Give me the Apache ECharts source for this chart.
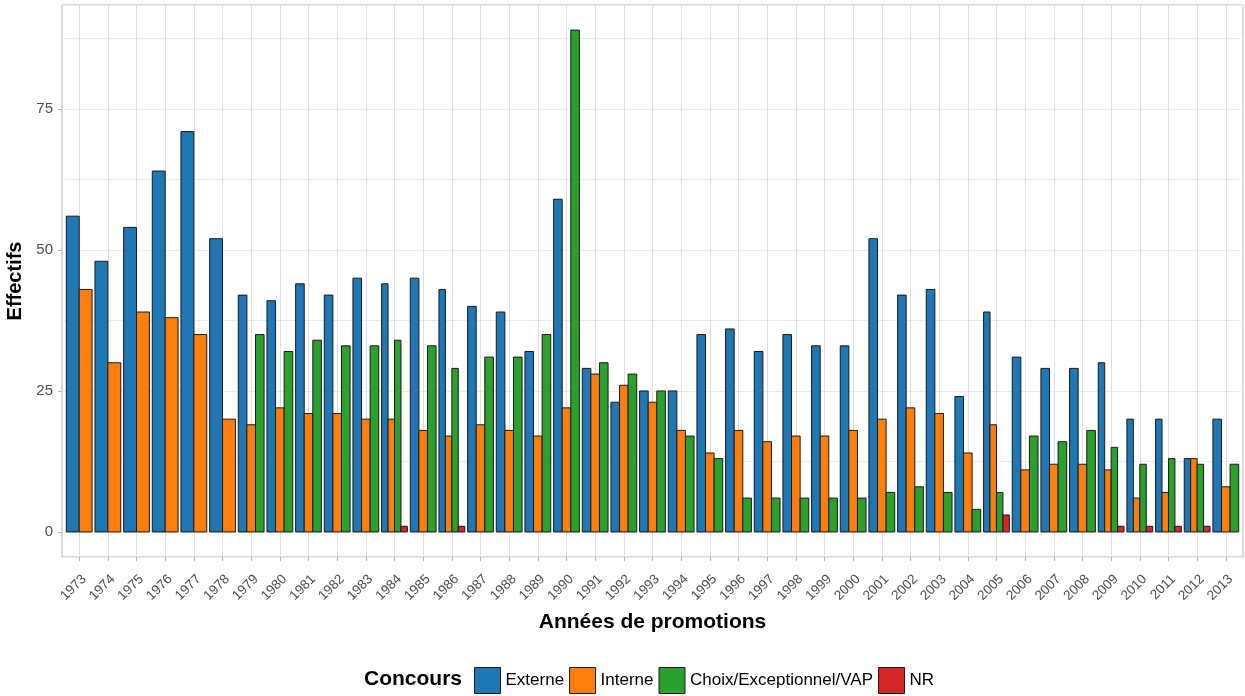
<!DOCTYPE html>
<html>
<head>
<meta charset="utf-8">
<script src="https://cdn.jsdelivr.net/npm/echarts@6/dist/echarts.min.js"></script>
<style>
html, body { margin: 0; background: #fff; }
#chart { width: 1245px; height: 696px; }
</style>
</head>
<body>
<div id="chart"></div>
<script>
// effectifs par année de promotion et par concours
var years = ['1973', '1974', '1975', '1976', '1977', '1978', '1979', '1980', '1981', '1982',
    '1983', '1984', '1985', '1986', '1987', '1988', '1989', '1990', '1991', '1992',
    '1993', '1994', '1995', '1996', '1997', '1998', '1999', '2000', '2001', '2002',
    '2003', '2004', '2005', '2006', '2007', '2008', '2009', '2010', '2011', '2012', '2013'];
var externe = [56, 48, 54, 64, 71, 52, 42, 41, 44, 42, 45, 44, 45, 43, 40, 39, 32, 59, 29, 23,
    25, 25, 35, 36, 32, 35, 33, 33, 52, 42, 43, 24, 39, 31, 29, 29, 30, 20, 20, 13, 20];
var interne = [43, 30, 39, 38, 35, 20, 19, 22, 21, 21, 20, 20, 18, 17, 19, 18, 17, 22, 28, 26,
    23, 18, 14, 18, 16, 17, 17, 18, 20, 22, 21, 14, 19, 11, 12, 12, 11, 6, 7, 13, 8];
var choix = [null, null, null, null, null, null, 35, 32, 34, 33, 33, 34, 33, 29, 31, 31, 35, 89, 30, 28,
    25, 17, 13, 6, 6, 6, 6, 6, 7, 8, 7, 4, 7, 17, 16, 18, 15, 12, 13, 12, 12];
var nr = [null, null, null, null, null, null, null, null, null, null, null, 1, null, 1, null, null, null, null, null, null,
    null, null, null, null, null, null, null, null, null, null, null, null, 3, null, null, null, 1, 1, 1, 1, null];
var yTicks = [0, 25, 50, 75];

var groups = ['Externe', 'Interne', 'Choix/Exceptionnel/VAP', 'NR'];
var colors = ['#1F77B4', '#FF7F0E', '#2CA02C', '#D62728'];
var values = [externe, interne, choix, nr];
var xTicks = years.map(function (y, i) { return i; });

// barres "dodge" à la ggplot : la largeur se partage entre les groupes présents
function barRenderer(k) {
    return function (params, api) {
        var i = api.value(0);
        var v = api.value(1);
        var present = [];
        values.forEach(function (arr, g) {
            if (arr[i] != null) present.push(g);
        });
        var band = api.size([1, 0])[0];
        var w = band * 0.9 / present.length;
        var base = api.coord([i, 0]);
        var top = api.coord([i, v]);
        var x0 = base[0] - band * 0.45 + present.indexOf(k) * w;
        return {
            type: 'rect',
            shape: { x: x0, y: top[1], width: w, height: base[1] - top[1] },
            style: { fill: colors[k], stroke: '#1a1a1a', lineWidth: 1 }
        };
    };
}

var series = groups.map(function (name, k) {
    var data = [];
    values[k].forEach(function (v, i) {
        if (v != null) data.push([i, v]);
    });
    return {
        name: name,
        type: 'custom',
        renderItem: barRenderer(k),
        encode: { x: 0, y: 1 },
        itemStyle: { color: colors[k], borderColor: '#1a1a1a', borderWidth: 1 },
        data: data,
        z: 3
    };
});

var font = 'Liberation Sans, Arial, sans-serif';
var chart = echarts.init(document.getElementById('chart'));
chart.setOption({
    animation: false,
    backgroundColor: '#fff',
    title: {
        text: 'Concours',
        left: 364,
        top: 669,
        padding: 0,
        textStyle: { fontFamily: font, fontSize: 21, fontWeight: 'bold', color: '#000' }
    },
    legend: {
        data: groups,
        left: 474,
        top: 667,
        padding: 0,
        itemWidth: 26,
        itemHeight: 26,
        itemGap: 5,
        icon: 'rect',
        itemStyle: { borderColor: '#1a1a1a', borderWidth: 1 },
        textStyle: { fontFamily: font, fontSize: 17, color: '#000' }
    },
    grid: {
        left: 62, right: 2, top: 5, bottom: 139,
        outerBoundsMode: 'none',
        containLabel: false,
        show: true,
        backgroundColor: '#fff',
        borderColor: '#b3b3b3',
        borderWidth: 1
    },
    xAxis: {
        type: 'value',
        min: -0.6,
        max: 40.6,
        minInterval: 1,
        maxInterval: 1,
        name: 'Années de promotions',
        nameLocation: 'middle',
        nameGap: 55,
        nameTextStyle: { fontFamily: font, fontSize: 21, fontWeight: 'bold', color: '#000' },
        axisLine: { show: false, onZero: false },
        axisTick: { show: true, customValues: xTicks, length: 4, lineStyle: { color: '#b3b3b3' } },
        axisLabel: {
            customValues: xTicks,
            formatter: function (v) { return years[Math.round(v)] || ''; },
            rotate: 45,
            align: 'right',
            verticalAlign: 'top',
            margin: 15,
            fontFamily: font,
            fontSize: 13.5,
            color: '#4d4d4d'
        },
        splitLine: { show: true, lineStyle: { color: '#dedede', width: 1 } }
    },
    yAxis: [{
        type: 'value',
        min: -4.45,
        max: 93.45,
        minInterval: 25,
        maxInterval: 25,
        name: 'Effectifs',
        nameLocation: 'middle',
        nameGap: 35,
        nameTextStyle: { fontFamily: font, fontSize: 20, fontWeight: 'bold', color: '#000' },
        axisLine: { show: false, onZero: false },
        axisTick: { show: true, customValues: yTicks, length: 4, lineStyle: { color: '#b3b3b3' } },
        axisLabel: {
            customValues: yTicks,
            margin: 9,
            fontFamily: font,
            fontSize: 15,
            color: '#4d4d4d'
        },
        splitLine: { show: true, lineStyle: { color: '#dedede', width: 1 } }
    }, {
        // lignes de grille secondaires (12.5, 37.5, ...)
        type: 'value',
        position: 'right',
        min: -4.45,
        max: 93.45,
        minInterval: 12.5,
        maxInterval: 12.5,
        axisLine: { show: false, onZero: false },
        axisTick: { show: false },
        axisLabel: { show: false },
        splitLine: { show: true, lineStyle: { color: '#ececec', width: 1 } }
    }],
    series: series
});
</script>
</body>
</html>
